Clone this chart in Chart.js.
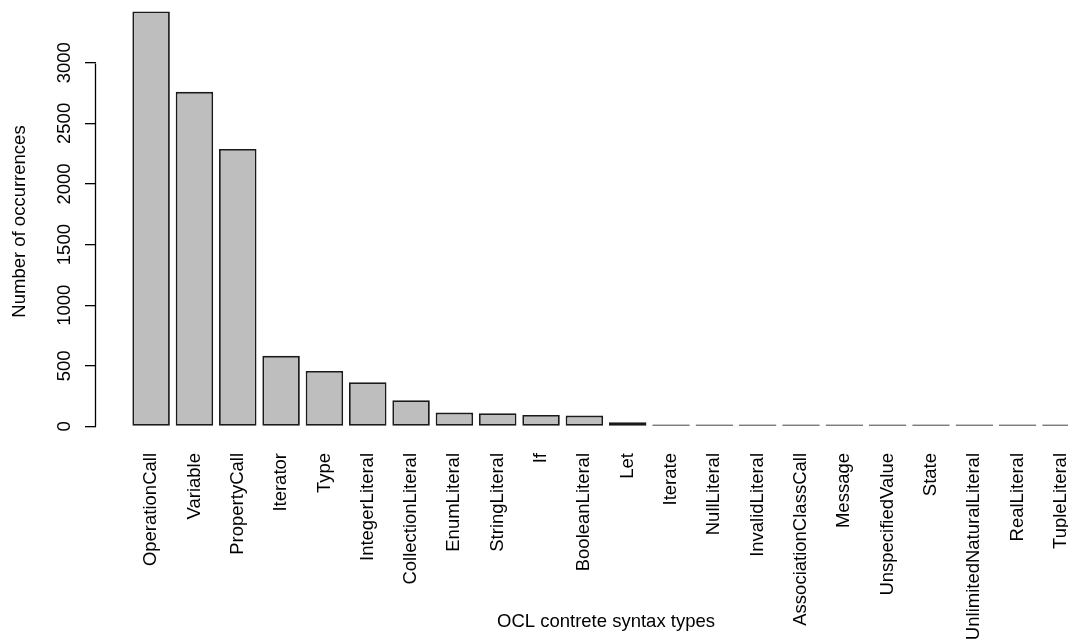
<!DOCTYPE html>
<html>
<head>
<meta charset="utf-8">
<script src="https://cdn.jsdelivr.net/npm/chart.js@4/dist/chart.umd.min.js"></script>
<style>
  html, body { margin: 0; padding: 0; overflow: hidden; background: #fff; }
  #wrap { width: 1116px; height: 641px; position: relative; }
</style>
</head>
<body>
<div id="wrap"><canvas id="c"></canvas></div>
<script>
const categories = ["OperationCall","Variable","PropertyCall","Iterator","Type","IntegerLiteral",
  "CollectionLiteral","EnumLiteral","StringLiteral","If","BooleanLiteral","Let","Iterate",
  "NullLiteral","InvalidLiteral","AssociationClassCall","Message","UnspecifiedValue","State",
  "UnlimitedNaturalLiteral","RealLiteral","TupleLiteral"];
const occurrences = [3423, 2760, 2289, 582, 458, 365, 216, 114, 109, 95, 89, 35, 5,
  4, 4, 1, 1, 1, 1, 1, 1, 1];
const yTicks = [0, 500, 1000, 1500, 2000, 2500, 3000];
const xTitle = "OCL contrete syntax types";
const yTitle = "Number of occurrences";

const FONT = { family: "'Liberation Sans', Arial, Helvetica, sans-serif", size: 18.5 };
Chart.defaults.color = '#000';
Chart.defaults.font = FONT;

const yAxisLine = {
  id: 'yAxisLine',
  afterDraw(chart) {
    const s = chart.scales.y, ctx = chart.ctx;
    const x = Math.round(s.right) - 0.5;
    ctx.save();
    ctx.strokeStyle = '#000';
    ctx.lineWidth = 1.3;
    ctx.beginPath();
    ctx.moveTo(x, Math.round(s.getPixelForValue(yTicks[0])) + 0.5);
    ctx.lineTo(x, Math.round(s.getPixelForValue(yTicks[yTicks.length - 1])) + 0.5);
    ctx.stroke();
    ctx.restore();
  }
};

new Chart(document.getElementById('c'), {
  type: 'bar',
  data: {
    datasets: [{
      data: occurrences.map((v, i) => ({ x: i, y: v })),
      backgroundColor: '#bebebe',
      borderColor: '#1a1a1a',
      borderWidth: 1.8,
      borderSkipped: false,
      minBarLength: 2,
      barPercentage: 1,
      categoryPercentage: 0.865
    }]
  },
  options: {
    responsive: true,
    maintainAspectRatio: false,
    animation: false,
    layout: { padding: 0 },
    plugins: { legend: { display: false }, tooltip: { enabled: false } },
    scales: {
      x: {
        type: 'linear',
        offset: false,
        min: -1.272,
        max: 22.27,
        grid: { display: false, drawTicks: false, offset: false },
        border: { display: false },
        afterBuildTicks: (s) => { s.ticks = categories.map((c, i) => ({ value: i })); },
        afterFit: (s) => { s.height = 198; s.paddingLeft = 0; s.paddingRight = 0; },
        ticks: {
          autoSkip: false,
          minRotation: 90,
          maxRotation: 90,
          padding: 10,
          color: '#000',
          font: FONT,
          callback: (v) => categories[v]
        },
        title: {
          display: true,
          text: xTitle,
          color: '#000',
          font: FONT,
          padding: { top: 0, bottom: 8 }
        }
      },
      y: {
        min: -137,
        max: 3518,
        grid: { display: true, drawOnChartArea: false, drawTicks: true, tickLength: 11, color: '#000', lineWidth: 1.3 },
        border: { display: false },
        afterBuildTicks: (s) => { s.ticks = yTicks.map(v => ({ value: v })); },
        afterFit: (s) => { s.width = 96; s.paddingTop = 0; s.paddingBottom = 0; },
        ticks: {
          minRotation: 90,
          maxRotation: 90,
          crossAlign: 'center',
          padding: 0,
          color: '#000',
          font: FONT,
          autoSkip: false,
          callback: (v) => String(v)
        },
        title: {
          display: true,
          text: yTitle,
          color: '#000',
          font: FONT,
          padding: { top: 9, bottom: 0 }
        }
      }
    }
  },
  plugins: [yAxisLine]
});
</script>
</body>
</html>
